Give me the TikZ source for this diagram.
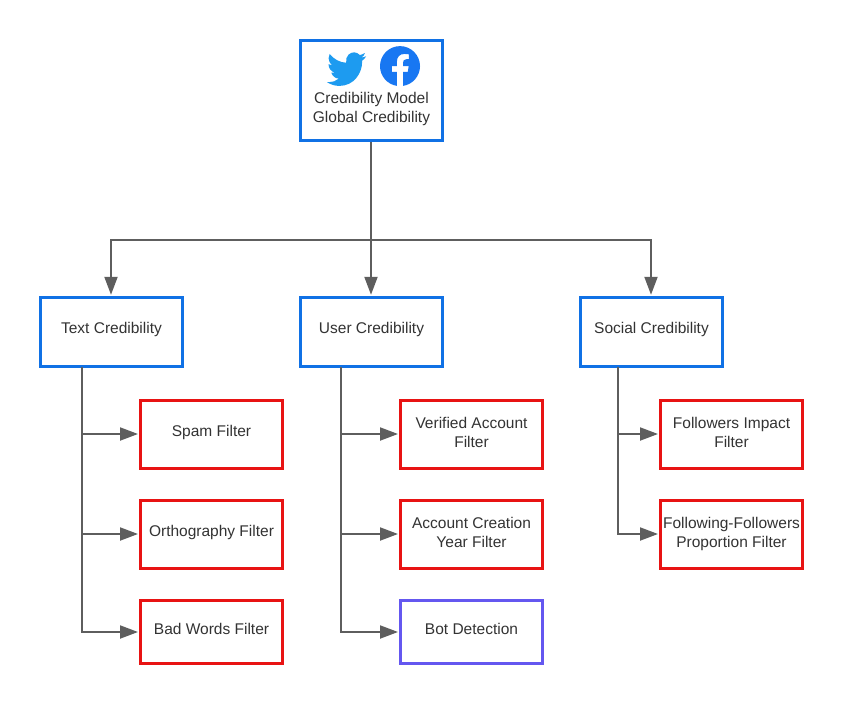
\documentclass[tikz,border=0pt]{standalone}
\usepackage{fontspec}
\setmainfont{Liberation Sans}
\usetikzlibrary{arrows.meta,svg.path}
\definecolor{bluebox}{HTML}{1071E5}
\definecolor{redbox}{HTML}{E81313}
\definecolor{purplebox}{HTML}{6457F0}
\definecolor{conn}{HTML}{5E5E5E}
\definecolor{ink}{HTML}{333333}
\definecolor{twblue}{HTML}{1D9BF0}
\definecolor{fbblue}{HTML}{1877F2}
\newcommand\boxtext[2][2pt]{\raisebox{#1}[\height][\depth]{\begin{tabular}{@{}c@{}}#2\end{tabular}}}
\tikzset{
  x=1pt,y=-1pt,
  base/.style={draw,line width=3.4pt,fill=white,text=ink,minimum width=141.6pt,inner sep=0pt,
    font=\fontsize{15.5}{19}\selectfont},
  bluenode/.style={base,draw=bluebox},
  rednode/.style={base,draw=redbox},
  purplenode/.style={base,draw=purplebox},
  link/.style={draw=conn,line width=2pt,-{Triangle[length=18pt,width=13pt]},shorten >=1pt},
  plain/.style={draw=conn,line width=2pt},
}
\begin{document}
\begin{tikzpicture}
\useasboundingbox (0,0) rectangle (842,703);
% nodes
\node[bluenode,minimum height=99.6pt] (root) at (371.5,90.5) {\boxtext[-19pt]{Credibility Model\\Global Credibility}};
\node[bluenode,minimum height=69pt] (text) at (111.5,332) {\boxtext[2.5pt]{Text Credibility}};
\node[bluenode,minimum height=69pt] (user) at (371.5,332) {\boxtext[2.5pt]{User Credibility}};
\node[bluenode,minimum height=69pt] (social) at (651.5,332) {\boxtext[2.5pt]{Social Credibility}};
\node[rednode,minimum height=68pt] (spam) at (211.5,434.5) {\boxtext{Spam Filter}};
\node[rednode,minimum height=68pt] (ortho) at (211.5,534.5) {\boxtext{Orthography Filter}};
\node[rednode,minimum height=63pt] (bad) at (211.5,632) {\boxtext[1pt]{Bad Words Filter}};
\node[rednode,minimum height=68pt] (verified) at (471.5,434.5) {\boxtext[0.5pt]{Verified Account\\Filter}};
\node[rednode,minimum height=68pt] (creation) at (471.5,534.5) {\boxtext[0.5pt]{Account Creation\\Year Filter}};
\node[purplenode,minimum height=63pt] (bot) at (471.5,632) {\boxtext[1pt]{Bot Detection}};
\node[rednode,minimum height=68pt] (impact) at (731.5,434.5) {\boxtext[0.5pt]{Followers Impact\\Filter}};
\node[rednode,minimum height=68pt] (prop) at (731.5,534.5) {\boxtext[0.5pt]{Following-Followers\\Proportion Filter}};
% connector junctions
\coordinate (hub) at (371,240);
\coordinate (ttrunk) at (82,367);
\coordinate (utrunk) at (341,367);
\coordinate (strunk) at (618,367);
% connectors
\draw[plain] ([xshift=-0.5pt]root.south) -- (hub);
\draw[link] (hub) -| ([xshift=-0.5pt]text.north);
\draw[link] (hub) -- ([xshift=-0.5pt]user.north);
\draw[link] (hub) -| ([xshift=-0.5pt]social.north);
\draw[link] (ttrunk) |- ([yshift=0.5pt]spam.west);
\draw[link] (ttrunk) |- ([yshift=0.5pt]ortho.west);
\draw[link] (ttrunk) |- (bad.west);
\draw[link] (utrunk) |- ([yshift=0.5pt]verified.west);
\draw[link] (utrunk) |- ([yshift=0.5pt]creation.west);
\draw[link] (utrunk) |- (bot.west);
\draw[link] (strunk) |- ([yshift=0.5pt]impact.west);
\draw[link] (strunk) |- ([yshift=0.5pt]prop.west);
% logos
\begin{scope}[shift={(327,48.5)},xscale=1.63,yscale=-1.72]
\fill[twblue] svg "M23.953 4.57 a10 10 0 0 1 -2.825 .775 4.958 4.958 0 0 0 2.163 -2.723 c-.951 .555 -2.005 .959 -3.127 1.184 a4.92 4.92 0 0 0 -8.384 4.482 C7.69 8.095 4.067 6.13 1.64 3.162 a4.822 4.822 0 0 0 -.666 2.475 c0 1.71 .87 3.213 2.188 4.096 a4.904 4.904 0 0 1 -2.228 -.616 v.06 a4.923 4.923 0 0 0 3.946 4.827 4.996 4.996 0 0 1 -2.212 .085 4.936 4.936 0 0 0 4.604 3.417 9.867 9.867 0 0 1 -6.102 2.105 c-.39 0 -.779 -.023 -1.17 -.067 a13.995 13.995 0 0 0 7.557 2.209 c9.053 0 13.998 -7.496 13.998 -13.985 0 -.21 0 -.42 -.015 -.63 A9.935 9.935 0 0 0 24 4.59 z";
\end{scope}
\begin{scope}[shift={(380,46)},yscale=-1,scale=1.667]
\fill[fbblue] svg "M24 12.073 c0 -6.627 -5.373 -12 -12 -12 s-12 5.373 -12 12 c0 5.99 4.388 10.954 10.125 11.854 v-8.385 H7.078 v-3.47 h3.047 V9.43 c0 -3.007 1.792 -4.669 4.533 -4.669 1.312 0 2.686 .235 2.686 .235 v2.953 H15.83 c-1.491 0 -1.956 .925 -1.956 1.874 v2.25 h3.328 l-.532 3.47 h-2.796 v8.385 C19.612 23.027 24 18.062 24 12.073 z";
\end{scope}
\end{tikzpicture}
\end{document}
